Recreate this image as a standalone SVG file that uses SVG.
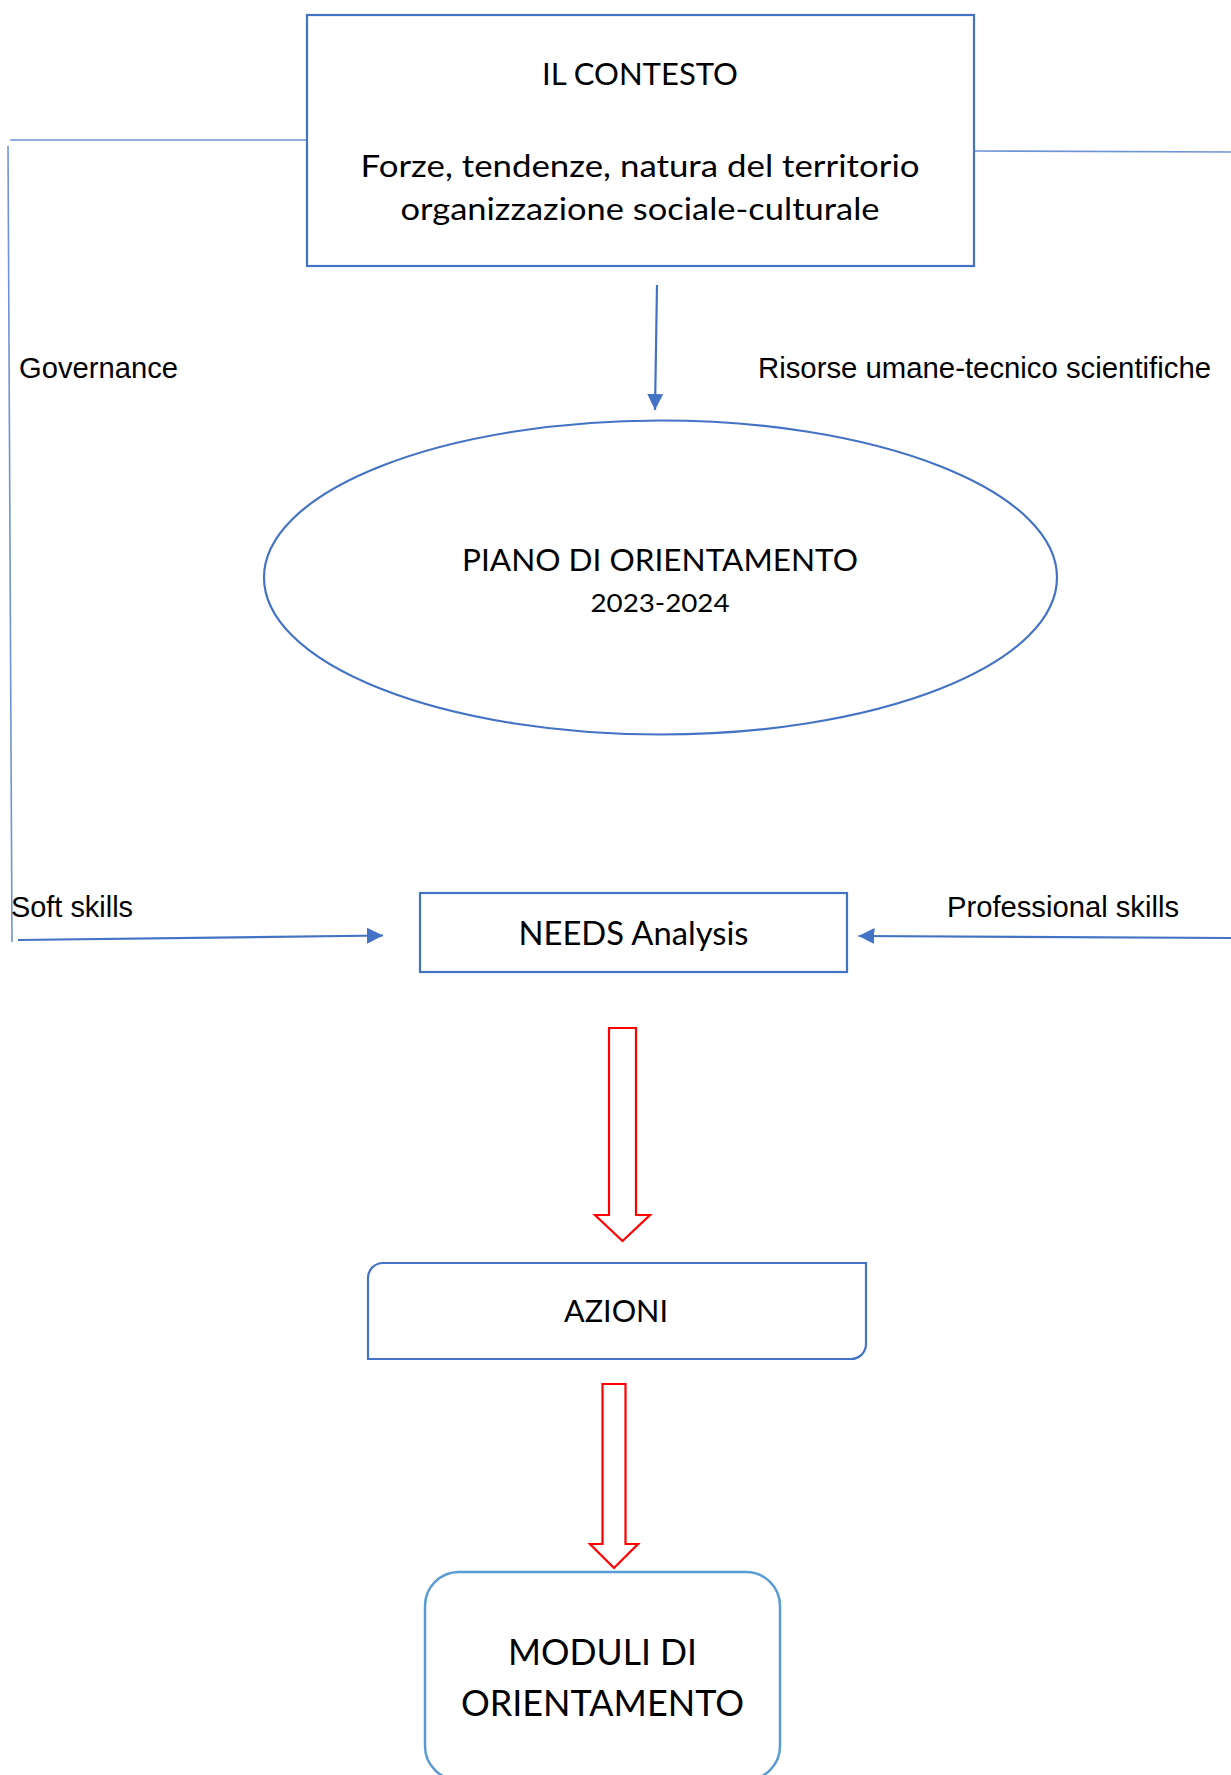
<svg xmlns="http://www.w3.org/2000/svg" width="1231" height="1775" viewBox="0 0 1231 1775">
  <style>
    .box { fill: #ffffff; stroke: #4472C4; stroke-width: 2.2; }
    .box2 { fill: #ffffff; stroke: #5B9BD5; stroke-width: 2.5; }
    .conn { fill: none; stroke: #4472C4; stroke-width: 2.2; }
    .thin { fill: none; stroke: #6F93D6; stroke-width: 1.6; }
    .red { fill: #ffffff; stroke: #FF0000; stroke-width: 2.2; stroke-linejoin: miter; }
    .cal { font-family: Lato, "Open Sans", sans-serif; fill: #000000; text-anchor: middle; }
    .ar { font-family: "Liberation Sans", Arial, sans-serif; font-size: 29px; fill: #000000; }
  </style>
  <defs>
    <marker id="ah" viewBox="0 0 16 16" refX="16" refY="8" markerWidth="16" markerHeight="16" markerUnits="userSpaceOnUse" orient="auto">
      <path d="M0,0 L16,8 L0,16 Z" fill="#4472C4"/>
    </marker>
  </defs>
  <rect width="1231" height="1775" fill="#ffffff"/>

  <g id="connectors">
    <line class="thin" x1="10" y1="140" x2="307" y2="140"/>
    <line class="thin" x1="8" y1="146" x2="12" y2="942"/>
    <line class="thin" x1="974" y1="151" x2="1231" y2="152"/>
    <line class="conn" x1="657" y1="285" x2="655" y2="410" marker-end="url(#ah)"/>
    <line class="conn" x1="18" y1="940" x2="383" y2="935.5" marker-end="url(#ah)"/>
    <line class="conn" x1="1231" y1="938" x2="858.5" y2="936" marker-end="url(#ah)"/>
    <polygon class="red" points="609,1028 636,1028 636,1215 650,1215 622.5,1241 595,1215 609,1215"/>
    <polygon class="red" points="602.5,1384 625.5,1384 625.5,1544 638,1544 614,1568 590,1544 602.5,1544"/>
  </g>

  <g id="labels">
    <text class="ar" x="19" y="378" textLength="159" lengthAdjust="spacingAndGlyphs">Governance</text>
    <text class="ar" x="758" y="378" textLength="453" lengthAdjust="spacingAndGlyphs">Risorse umane-tecnico scientifiche</text>
    <text class="ar" x="11" y="917" textLength="122" lengthAdjust="spacingAndGlyphs">Soft skills</text>
    <text class="ar" x="947" y="917" textLength="232" lengthAdjust="spacingAndGlyphs">Professional skills</text>
  </g>

  <g id="node-contesto">
    <rect class="box" x="307" y="15" width="667" height="251"/>
    <text class="cal" x="640" y="85" font-size="31" textLength="196" lengthAdjust="spacingAndGlyphs">IL CONTESTO</text>
    <text class="cal" x="640" y="177" font-size="31" textLength="559" lengthAdjust="spacingAndGlyphs">Forze, tendenze, natura del territorio</text>
    <text class="cal" x="640" y="220" font-size="31" textLength="479" lengthAdjust="spacingAndGlyphs">organizzazione sociale-culturale</text>
  </g>

  <g id="node-piano">
    <ellipse class="box" cx="660.5" cy="577.5" rx="396.5" ry="157"/>
    <text class="cal" x="660" y="571" font-size="31" textLength="396" lengthAdjust="spacingAndGlyphs">PIANO DI ORIENTAMENTO</text>
    <text class="cal" x="660" y="612" font-size="25.5" textLength="139" lengthAdjust="spacingAndGlyphs">2023-2024</text>
  </g>

  <g id="node-needs">
    <rect class="box" x="420" y="893" width="427" height="79"/>
    <text class="cal" x="633.5" y="945" font-size="32" textLength="230" lengthAdjust="spacingAndGlyphs">NEEDS Analysis</text>
  </g>

  <g id="node-azioni">
    <path class="box" d="M383,1263 H866 V1344 A15,15 0 0 1 851,1359 H368 V1278 A15,15 0 0 1 383,1263 Z"/>
    <text class="cal" x="616" y="1322" font-size="31" textLength="104" lengthAdjust="spacingAndGlyphs">AZIONI</text>
  </g>

  <g id="node-moduli">
    <rect class="box2" x="425" y="1572" width="355" height="208" rx="34" ry="34"/>
    <text class="cal" x="602.5" y="1665" font-size="37" textLength="189" lengthAdjust="spacingAndGlyphs">MODULI DI</text>
    <text class="cal" x="602.5" y="1716" font-size="37" textLength="283" lengthAdjust="spacingAndGlyphs">ORIENTAMENTO</text>
  </g>
</svg>
